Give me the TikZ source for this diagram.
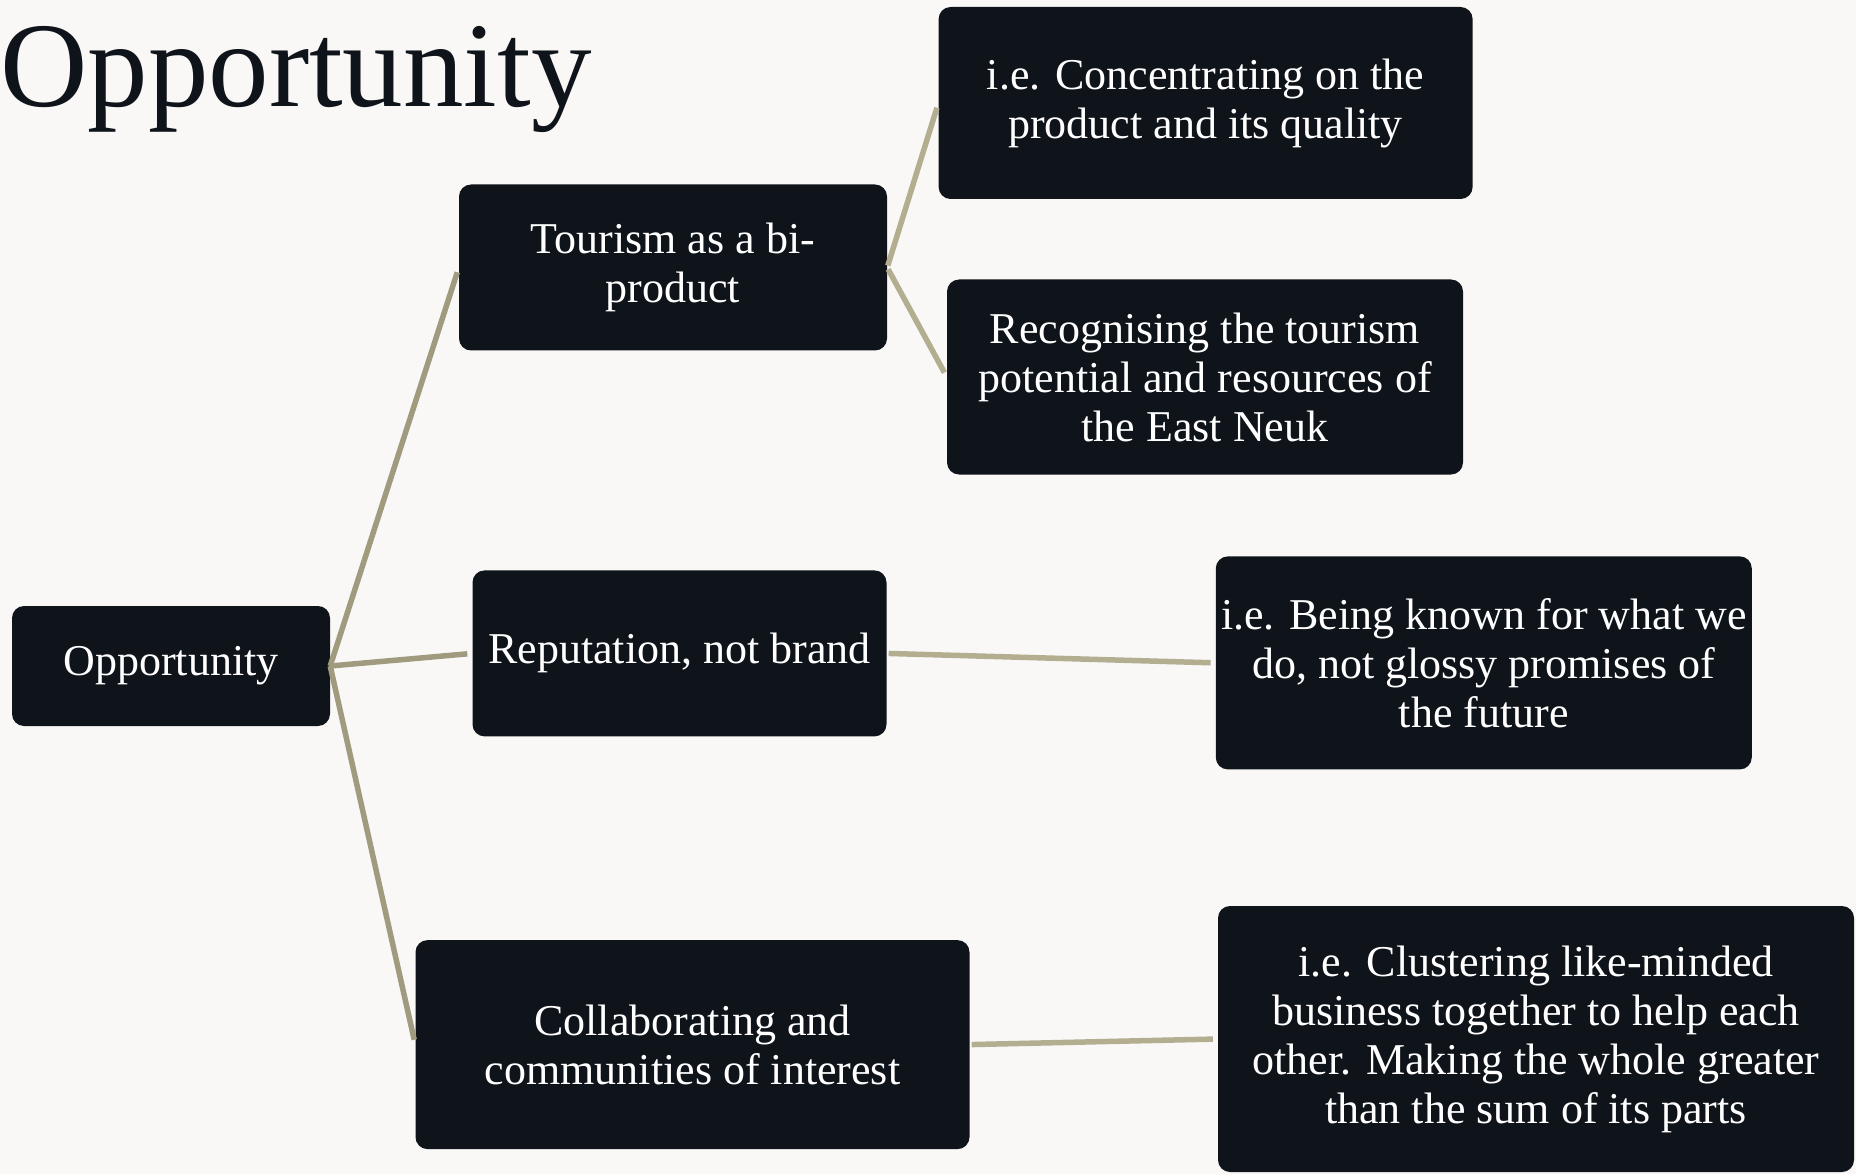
\documentclass[tikz,border=0pt]{standalone}
\usepackage{fontspec}
\setmainfont{Liberation Serif}
\definecolor{bgc}{HTML}{F9F8F6}
\definecolor{boxc}{HTML}{0F131A}
\definecolor{lineA}{HTML}{A09B7F}
\definecolor{lineB}{HTML}{B4AE91}
\tikzset{
  box/.style={fill=boxc, rounded corners=12pt, text=white, align=center, inner sep=0pt,
    font=\fontsize{44}{49}\selectfont},
  linkA/.style={draw=lineA, line width=5.5pt, shorten >=5pt},
  linkB/.style={draw=lineB, line width=5.5pt, shorten >=5pt, shorten <=2pt},
}
\begin{document}
\begin{tikzpicture}[x=1pt, y=-1pt]
\fill[bgc] (0,0) rectangle (1856,1174);
\useasboundingbox (0,0) rectangle (1856,1174);

\node[anchor=base west, inner sep=0pt, text=boxc, font=\fontsize{121}{124}\selectfont] (title) at (0,107) {Opportunity};

\node[box, minimum width=318pt, minimum height=120pt] (root) at (171,666) {Opportunity};
\node[box, minimum width=428pt, minimum height=166pt] (tour) at (673,267.5) {Tourism as a bi-\\product};
\node[box, minimum width=414pt, minimum height=166pt] (rep) at (679.5,653.4) {Reputation, not brand};
\node[box, minimum width=554pt, minimum height=209pt] (coll) at (692.5,1044.6) {Collaborating and\\communities of interest};
\node[box, minimum width=534pt, minimum height=192pt] (conc) at (1205.6,103) {i.e. Concentrating on the\\product and its quality};
\node[box, minimum width=516pt, minimum height=195pt] (recog) at (1205,377) {Recognising the tourism\\potential and resources of\\the East Neuk};
\node[box, minimum width=536pt, minimum height=213pt] (known) at (1483.8,662.9) {i.e. Being known for what we\\do, not glossy promises of\\the future};
\node[box, minimum width=636pt, minimum height=266pt] (clust) at (1536,1039) {i.e. Clustering like-minded\\business together to help each\\other. Making the whole greater\\than the sum of its parts};

\draw[linkA] (root.east) -- (tour.west);
\draw[linkA] (root.east) -- (rep.west);
\draw[linkA] (root.east) -- (coll.west);
\draw[linkB] (tour.east) -- (conc.west);
\draw[linkB] (tour.east) -- (recog.west);
\draw[linkB] (rep.east) -- (known.west);
\draw[linkB] (coll.east) -- (clust.west);
\end{tikzpicture}
\end{document}
